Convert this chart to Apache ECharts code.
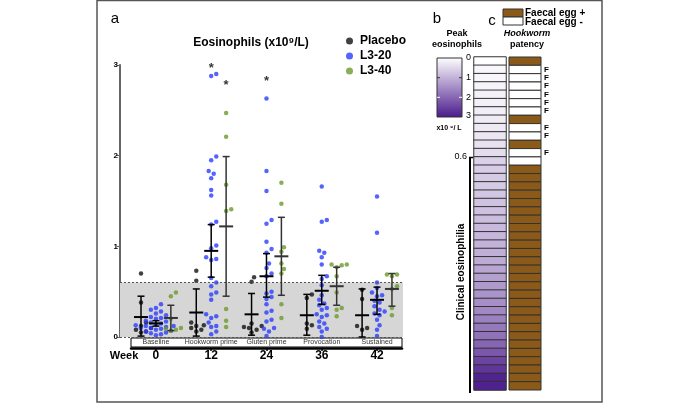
<!DOCTYPE html>
<html>
<head>
<meta charset="UTF-8">
<title>Eosinophils</title>
<script src="https://cdn.jsdelivr.net/npm/echarts@6/dist/echarts.min.js"></script>
<style>
  body { margin: 0; background: #fff; }
  #main { width: 699px; height: 403px; }
</style>
</head>
<body>
<div id="main"></div>
<script>
// week labels and study phases
var weeks = ['0', '12', '24', '36', '42'];
var phases = ['Baseline', 'Hookworm prime', 'Gluten prime', 'Provocation', 'Sustained'];

// eosinophils (x10^9/L) per subject, one array per week
var placebo = [
  [0.70, 0.38, 0.16, 0.10, 0.08, 0.05, 0.12, 0.06],
  [0.73, 0.62, 0.16, 0.13, 0.12, 0.10, 0.08, 0.06],
  [0.66, 0.61, 0.15, 0.12, 0.10, 0.11, 0.08, 0.05],
  [0.47, 0.43, 0.15, 0.13, 0.09],
  [0.52, 0.42, 0.12, 0.08, 0.10]
];
var l320 = [
  [0.36, 0.32, 0.30, 0.28, 0.26, 0.24, 0.22, 0.21, 0.20, 0.18, 0.17, 0.16, 0.15, 0.14, 0.13, 0.12, 0.11, 0.10, 0.09, 0.08, 0.07, 0.06, 0.05, 0.04, 0.03, 0.02, 0.10, 0.12],
  [2.90, 2.88, 1.99, 1.95, 1.83, 1.80, 1.75, 1.62, 1.56, 1.27, 1.24, 1.01, 0.98, 0.86, 0.88, 0.85, 0.65, 0.60, 0.56, 0.49, 0.47, 0.41, 0.25, 0.23, 0.21, 0.16, 0.12, 0.11, 0.06, 0.03],
  [2.63, 1.83, 1.61, 1.29, 1.25, 1.05, 0.97, 0.93, 0.81, 0.76, 0.70, 0.67, 0.50, 0.48, 0.44, 0.42, 0.36, 0.29, 0.27, 0.19, 0.17, 0.10, 0.09, 0.06, 0.01],
  [1.66, 1.29, 1.27, 0.95, 0.93, 0.88, 0.80, 0.67, 0.64, 0.57, 0.46, 0.41, 0.37, 0.35, 0.32, 0.30, 0.25, 0.24, 0.22, 0.17, 0.15, 0.11, 0.09, 0.06, 0.00],
  [1.55, 1.15, 0.60, 0.54, 0.49, 0.46, 0.45, 0.40, 0.38, 0.34, 0.30, 0.28, 0.26, 0.24, 0.19, 0.13, 0.08, 0.01]
];
var l340 = [
  [0.49, 0.45, 0.20, 0.10, 0.08, 0.07, 0.09],
  [2.47, 2.21, 1.68, 1.41, 1.39, 0.31, 0.18, 0.11],
  [1.70, 1.47, 0.99, 0.94, 0.81, 0.75, 0.70, 0.36, 0.21],
  [0.80, 0.80, 0.79, 0.77, 0.67, 0.49, 0.32, 0.30, 0.23],
  [0.69, 0.69, 0.67, 0.56, 0.53, 0.32, 0.24]
];

// mean and error bar ends per week
var placeboMean = [0.22, 0.27, 0.25, 0.24, 0.24];
var placeboLo   = [0.01, 0.01, 0.02, 0.02, 0.00];
var placeboHi   = [0.45, 0.53, 0.48, 0.47, 0.53];
var l320Mean = [0.15, 0.95, 0.67, 0.51, 0.41];
var l320Lo   = [0.12, 0.66, 0.44, 0.36, 0.25];
var l320Hi   = [0.18, 1.24, 0.92, 0.68, 0.55];
var l340Mean = [0.21, 1.22, 0.89, 0.56, 0.53];
var l340Lo   = [0.07, 0.45, 0.46, 0.35, 0.34];
var l340Hi   = [0.35, 1.99, 1.32, 0.77, 0.70];

// significance stars: [week index, group index, height]
var stars = [[1, 1, 2.96], [1, 2, 2.78], [2, 1, 2.82]];

// panel b / c: one row per subject, sorted by peak eosinophils
var peakEos = [0.00, 0.10, 0.12, 0.15, 0.18, 0.20, 0.22, 0.25, 0.28, 0.32, 0.38, 0.45,
  0.62, 0.65, 0.68, 0.70, 0.74, 0.78, 0.82, 0.86, 0.90, 0.95, 1.00, 1.05, 1.10, 1.18,
  1.25, 1.32, 1.40, 1.48, 1.56, 1.65, 1.75, 1.85, 2.00, 2.20, 2.45, 2.63, 2.88, 2.90];
var eggPositive = [1, 0, 0, 0, 0, 0, 0, 1, 0, 0, 1, 0, 0,
  1, 1, 1, 1, 1, 1, 1, 1, 1, 1, 1, 1, 1, 1, 1, 1, 1, 1, 1, 1, 1, 1, 1, 1, 1, 1, 1];
var failedF = [0, 1, 1, 1, 1, 1, 1, 0, 1, 1, 0, 1, 0,
  0, 0, 0, 0, 0, 0, 0, 0, 0, 0, 0, 0, 0, 0, 0, 0, 0, 0, 0, 0, 0, 0, 0, 0, 0, 0, 0];

var FONT = 'Liberation Sans, Arial, sans-serif';
var groupNames = ['Placebo', 'L3-20', 'L3-40'];
var groupColors = ['#111111', '#2b3dff', '#6b9a2a'];
var barColors = ['#000000', '#000000', '#333333'];
var groupOffset = [-0.27, 0, 0.27];
var PX_X = 55.3, PX_Y = 90.5, DOT = 4.6;

// simple beeswarm so the dots don't sit on top of each other
function swarm(values) {
  var order = values.map(function (v, i) { return i; }).sort(function (a, b) { return values[a] - values[b]; });
  var placed = [], offs = [];
  order.forEach(function (i) {
    var yp = values[i] * PX_Y, off = 0;
    for (var step = 0; step < 40; step++) {
      off = step === 0 ? 0 : (step % 2 ? 1 : -1) * Math.ceil(step / 2) * DOT * 0.55;
      var ok = placed.every(function (p) { return Math.hypot(p[0] - off, p[1] - yp) >= DOT; });
      if (ok) break;
    }
    placed.push([off, yp]);
    offs[i] = off;
  });
  return offs;
}

function points(groupData, g) {
  var out = [];
  groupData.forEach(function (vals, w) {
    var offs = swarm(vals);
    vals.forEach(function (v, i) {
      out.push([w + groupOffset[g] + offs[i] / PX_X, v]);
    });
  });
  return out;
}

var bars = [];
[[placeboMean, placeboLo, placeboHi], [l320Mean, l320Lo, l320Hi], [l340Mean, l340Lo, l340Hi]].forEach(function (s, g) {
  s[0].forEach(function (m, w) {
    bars.push([w + groupOffset[g], m, s[1][w], s[2][w], g]);
  });
});

var rows = peakEos.map(function (v, i) { return 'r' + i; });

var myChart = echarts.init(document.getElementById('main'));

var option = {
  animation: false,
  textStyle: { fontFamily: FONT },
  grid: [
    { left: 120, top: 65, width: 283, height: 272 },
    { left: 131, top: 338, width: 271, height: 9, show: true, borderColor: '#000', borderWidth: 1, backgroundColor: '#fff' },
    { left: 474, top: 57, width: 32, height: 333 },
    { left: 509, top: 57, width: 32, height: 333 }
  ],
  xAxis: [
    { gridIndex: 0, type: 'value', min: -0.65, max: 4.47, show: false },
    {
      gridIndex: 1, type: 'value', min: -0.45, max: 4.45, position: 'bottom', offset: 1,
      axisLine: { show: true, onZero: false, lineStyle: { color: '#000', width: 2.5 } },
      axisTick: { show: true, length: 3, lineStyle: { color: '#000', width: 1.5 }, customValues: [0, 1, 2, 3, 4] },
      axisLabel: { customValues: [0, 1, 2, 3, 4], formatter: function (v) { return weeks[Math.round(v)]; },
        fontSize: 12, fontWeight: 'bold', color: '#000', margin: 2 },
      splitLine: { show: false }
    },
    {
      gridIndex: 1, type: 'value', min: -0.45, max: 4.45, position: 'top',
      axisLine: { show: false }, axisTick: { show: false }, splitLine: { show: false },
      axisLabel: { inside: true, customValues: [0, 1, 2, 3, 4], formatter: function (v) { return phases[Math.round(v)]; },
        fontSize: 7, color: '#333', margin: 1 }
    },
    { gridIndex: 2, type: 'category', data: ['eos'], show: false },
    { gridIndex: 3, type: 'category', data: ['egg'], show: false }
  ],
  yAxis: [
    {
      gridIndex: 0, type: 'value', min: 0, max: 3, interval: 1,
      axisLine: { show: true, onZero: false, lineStyle: { color: '#666', width: 2 } },
      axisTick: { show: true, length: 3, lineStyle: { color: '#666' } },
      axisLabel: { fontSize: 8, fontWeight: 'bold', color: '#000', margin: 2 },
      splitLine: { show: false }
    },
    { gridIndex: 1, type: 'value', show: false },
    { gridIndex: 2, type: 'category', data: rows, inverse: true, show: false },
    { gridIndex: 3, type: 'category', data: rows, inverse: true, show: false }
  ],
  legend: {
    data: groupNames, orient: 'vertical', left: 341, top: 29, itemWidth: 7, itemHeight: 7, itemGap: 1,
    icon: 'circle',
    textStyle: { fontSize: 12, fontWeight: 'bold', color: '#000', lineHeight: 14, padding: [0, 0, 0, 2] }
  },
  visualMap: {
    show: false, seriesIndex: 5, dimension: 2, min: 0, max: 3,
    inRange: { color: ['#ffffff', '#4a1a8c'] }
  },
  series: [
    {
      name: 'Placebo', type: 'scatter', xAxisIndex: 0, yAxisIndex: 0, symbolSize: 4.5,
      itemStyle: { color: groupColors[0] }, data: points(placebo, 0), z: 3,
      markArea: { silent: true, itemStyle: { color: '#d6d6d6' }, data: [[{ yAxis: 0 }, { yAxis: 0.6 }]] },
      markLine: { silent: true, symbol: 'none', label: { show: false },
        lineStyle: { color: '#555', type: [2, 2], width: 1 }, data: [{ yAxis: 0.6 }, { yAxis: 0 }] }
    },
    { name: 'L3-20', type: 'scatter', xAxisIndex: 0, yAxisIndex: 0, symbolSize: 4.5,
      itemStyle: { color: groupColors[1] }, data: points(l320, 1), z: 3 },
    { name: 'L3-40', type: 'scatter', xAxisIndex: 0, yAxisIndex: 0, symbolSize: 4.5,
      itemStyle: { color: groupColors[2] }, data: points(l340, 2), z: 3 },
    {
      type: 'custom', xAxisIndex: 0, yAxisIndex: 0, z: 5, silent: true, data: bars,
      encode: { x: 0, y: 1 },
      renderItem: function (params, api) {
        var x = api.value(0);
        var m = api.coord([x, api.value(1)]);
        var lo = api.coord([x, api.value(2)]);
        var hi = api.coord([x, api.value(3)]);
        var col = barColors[api.value(4)];
        var st = { stroke: col, lineWidth: 1.5 };
        return { type: 'group', children: [
          { type: 'line', shape: { x1: m[0], y1: lo[1], x2: m[0], y2: hi[1] }, style: st },
          { type: 'line', shape: { x1: m[0] - 3.5, y1: lo[1], x2: m[0] + 3.5, y2: lo[1] }, style: st },
          { type: 'line', shape: { x1: m[0] - 3.5, y1: hi[1], x2: m[0] + 3.5, y2: hi[1] }, style: st },
          { type: 'line', shape: { x1: m[0] - 7, y1: m[1], x2: m[0] + 7, y2: m[1] }, style: { stroke: col, lineWidth: 2 } }
        ] };
      }
    },
    {
      type: 'scatter', xAxisIndex: 0, yAxisIndex: 0, symbolSize: 1, silent: true, z: 6,
      itemStyle: { color: 'transparent' },
      label: { show: true, position: 'inside', formatter: '*', fontSize: 13, fontWeight: 'bold', color: '#000' },
      data: stars.map(function (s) { return [s[0] + groupOffset[s[1]], s[2]]; })
    },
    {
      type: 'heatmap', xAxisIndex: 3, yAxisIndex: 2, silent: true,
      itemStyle: { borderColor: '#333', borderWidth: 1 },
      data: peakEos.map(function (v, i) { return [0, i, v]; })
    },
    {
      type: 'custom', xAxisIndex: 4, yAxisIndex: 3, silent: true,
      data: eggPositive.map(function (e, i) { return [0, i, e, failedF[i]]; }),
      renderItem: function (params, api) {
        var c = api.coord([0, api.value(1)]);
        var s = api.size([1, 1]);
        var kids = [{
          type: 'rect', shape: { x: c[0] - s[0] / 2, y: c[1] - s[1] / 2, width: s[0], height: s[1] },
          style: { fill: api.value(2) ? '#8c5a18' : '#ffffff', stroke: '#333', lineWidth: 1 }
        }];
        if (api.value(3)) {
          kids.push({ type: 'text', x: c[0] + s[0] / 2 + 3, y: c[1],
            style: { text: 'F', fontSize: 8, fontWeight: 'bold', fill: '#000', fontFamily: FONT, verticalAlign: 'middle' } });
        }
        return { type: 'group', children: kids };
      }
    }
  ],
  graphic: [
    { type: 'rect', shape: { x: 97, y: 0.5, width: 505, height: 401.5 }, style: { fill: 'none', stroke: '#555', lineWidth: 1.5 }, silent: true },
    { type: 'text', x: 115, y: 19, style: { text: 'a', fontSize: 15, fill: '#000', fontFamily: FONT, align: 'center', verticalAlign: 'middle' } },
    { type: 'text', x: 251, y: 43, style: { text: 'Eosinophils (x10⁹/L)', fontSize: 12, fontWeight: 'bold', fill: '#000', fontFamily: FONT, align: 'center', verticalAlign: 'middle' } },
    { type: 'text', x: 124, y: 356, style: { text: 'Week', fontSize: 11, fontWeight: 'bold', fill: '#000', fontFamily: FONT, align: 'center', verticalAlign: 'middle' } },
    // panel b
    { type: 'text', x: 437, y: 19, style: { text: 'b', fontSize: 15, fill: '#000', fontFamily: FONT, align: 'center', verticalAlign: 'middle' } },
    { type: 'text', x: 457, y: 34, style: { text: 'Peak', fontSize: 9, fontWeight: 'bold', fill: '#000', fontFamily: FONT, align: 'center', verticalAlign: 'middle' } },
    { type: 'text', x: 457, y: 45, style: { text: 'eosinophils', fontSize: 9, fontWeight: 'bold', fill: '#000', fontFamily: FONT, align: 'center', verticalAlign: 'middle' } },
    { type: 'rect', shape: { x: 437, y: 58, width: 25, height: 59 }, silent: true,
      style: { stroke: '#333', lineWidth: 1,
        fill: { type: 'linear', x: 0, y: 0, x2: 0, y2: 1, colorStops: [{ offset: 0, color: '#ffffff' }, { offset: 1, color: '#4a1a8c' }] } } },
    { type: 'line', shape: { x1: 437, y1: 77.7, x2: 440, y2: 77.7 }, style: { stroke: '#333', lineWidth: 1 } },
    { type: 'line', shape: { x1: 459, y1: 77.7, x2: 462, y2: 77.7 }, style: { stroke: '#333', lineWidth: 1 } },
    { type: 'line', shape: { x1: 437, y1: 97.3, x2: 440, y2: 97.3 }, style: { stroke: '#fff', lineWidth: 1 } },
    { type: 'line', shape: { x1: 459, y1: 97.3, x2: 462, y2: 97.3 }, style: { stroke: '#fff', lineWidth: 1 } },
    { type: 'text', x: 466, y: 58, style: { text: '0', fontSize: 9, fill: '#000', fontFamily: FONT, verticalAlign: 'middle' } },
    { type: 'text', x: 466, y: 77.7, style: { text: '1', fontSize: 9, fill: '#000', fontFamily: FONT, verticalAlign: 'middle' } },
    { type: 'text', x: 466, y: 97.3, style: { text: '2', fontSize: 9, fill: '#000', fontFamily: FONT, verticalAlign: 'middle' } },
    { type: 'text', x: 466, y: 116, style: { text: '3', fontSize: 9, fill: '#000', fontFamily: FONT, verticalAlign: 'middle' } },
    { type: 'text', x: 449, y: 128, style: { text: 'x10 ⁹/ L', fontSize: 7, fontWeight: 'bold', fill: '#000', fontFamily: FONT, align: 'center', verticalAlign: 'middle' } },
    { type: 'line', shape: { x1: 470, y1: 157.5, x2: 470, y2: 393 }, style: { stroke: '#000', lineWidth: 2 } },
    { type: 'line', shape: { x1: 469, y1: 157.5, x2: 473, y2: 157.5 }, style: { stroke: '#000', lineWidth: 1.5 } },
    { type: 'text', x: 467, y: 157, style: { text: '0.6', fontSize: 9, fill: '#000', fontFamily: FONT, align: 'right', verticalAlign: 'middle' } },
    { type: 'text', x: 461, y: 272, rotation: Math.PI / 2,
      style: { text: 'Clinical eosinophilia', fontSize: 10, fontWeight: 'bold', fill: '#000', fontFamily: FONT, align: 'center', verticalAlign: 'middle' } },
    // panel c
    { type: 'text', x: 492, y: 21, style: { text: 'c', fontSize: 15, fill: '#000', fontFamily: FONT, align: 'center', verticalAlign: 'middle' } },
    { type: 'rect', shape: { x: 503, y: 9, width: 20, height: 8 }, style: { fill: '#8c5a18', stroke: '#333', lineWidth: 1 } },
    { type: 'rect', shape: { x: 503, y: 17, width: 20, height: 8 }, style: { fill: '#fff', stroke: '#333', lineWidth: 1 } },
    { type: 'text', x: 525, y: 13, style: { text: 'Faecal egg +', fontSize: 10, fontWeight: 'bold', fill: '#000', fontFamily: FONT, verticalAlign: 'middle' } },
    { type: 'text', x: 525, y: 22, style: { text: 'Faecal egg -', fontSize: 10, fontWeight: 'bold', fill: '#000', fontFamily: FONT, verticalAlign: 'middle' } },
    { type: 'text', x: 527, y: 34, style: { text: 'Hookworm', fontSize: 9, fontWeight: 'bold', fontStyle: 'italic', fill: '#000', fontFamily: FONT, align: 'center', verticalAlign: 'middle' } },
    { type: 'text', x: 527, y: 45, style: { text: 'patency', fontSize: 9, fontWeight: 'bold', fill: '#000', fontFamily: FONT, align: 'center', verticalAlign: 'middle' } }
  ]
};

myChart.setOption(option);
</script>
</body>
</html>
